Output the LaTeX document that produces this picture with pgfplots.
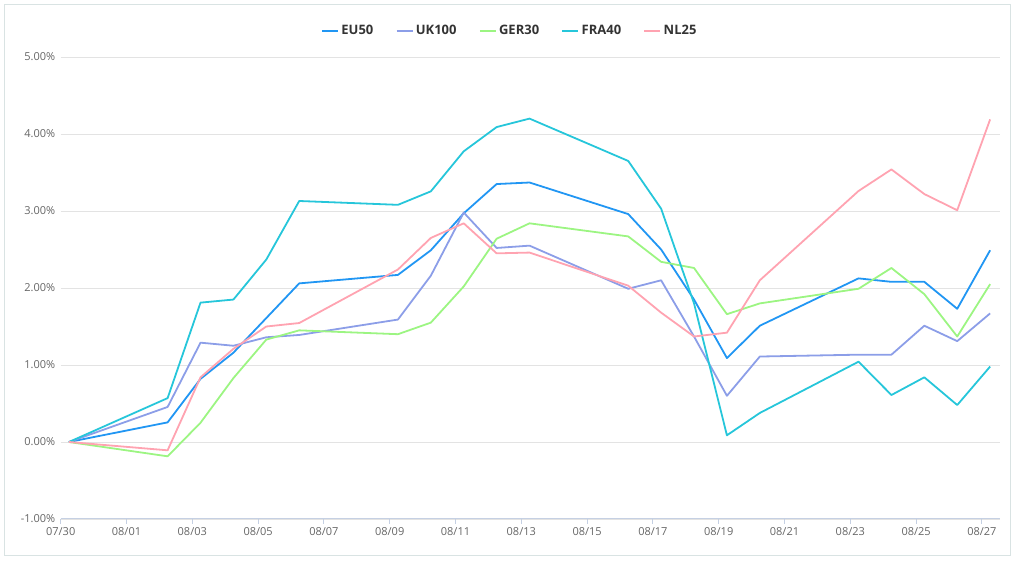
\documentclass[border=0pt]{standalone}
\usepackage{pgfplots}
\usepackage{pgfplotstable}
\pgfplotsset{compat=1.18}
\usepackage{fontspec}
\setmainfont{Open Sans}
\definecolor{eu}{HTML}{2196F3}
\definecolor{uk}{HTML}{8C9EE8}
\definecolor{ger}{HTML}{9CF582}
\definecolor{fra}{HTML}{26C6DA}
\definecolor{nl}{HTML}{FFA3B1}
\definecolor{gridc}{HTML}{E3E3E3}
\definecolor{axisc}{HTML}{C5D0E3}
\definecolor{tickc}{HTML}{666666}
\definecolor{legc}{HTML}{333333}
\definecolor{borderc}{HTML}{D9E3E3}
\pgfplotstableread{
x     eu     uk     ger     fra    nl
0.25  0      0      0       0      0
3.25  0.255  0.455  -0.186  0.57   -0.108
4.25  0.82   1.29   0.25    1.81   0.84
5.25  1.16   1.25   0.83    1.85   1.21
6.25  1.61   1.36   1.33    2.37   1.50
7.25  2.06   1.39   1.45    3.13   1.545
10.25 2.17   1.59   1.40    3.08   2.24
11.25 2.49   2.16   1.55    3.255  2.65
12.25 2.97   2.98   2.02    3.775  2.84
13.25 3.35   2.52   2.64    4.09   2.45
14.25 3.37   2.55   2.84    4.20   2.46
17.25 2.96   1.99   2.67    3.65   2.03
18.25 2.50   2.10   2.34    3.03   1.68
19.25 1.85   1.37   2.26    1.80   1.37
20.25 1.09   0.60   1.66    0.087  1.42
21.25 1.51   1.11   1.80    0.377  2.10
24.25 2.125  1.134  1.99    1.043  3.26
25.25 2.08   1.134  2.26    0.61   3.54
26.25 2.08   1.51   1.92    0.84   3.22
27.25 1.73   1.31   1.37    0.48   3.01
28.25 2.49   1.67   2.05    0.98   4.19
}\data
\begin{document}
\begin{tikzpicture}
\useasboundingbox (-60.7pt,-43pt) rectangle (954.3pt,519pt);
\draw[borderc, line width=1pt] (-55.7pt,-37pt) rectangle (949.3pt,514pt);
\begin{axis}[
  scale only axis,
  width=939.3pt, height=462pt,
  xmin=0, xmax=28.55, ymin=-1, ymax=5,
  xtick={0,2,...,28},
  xticklabels={07/30,08/01,08/03,08/05,08/07,08/09,08/11,08/13,08/15,08/17,08/19,08/21,08/23,08/25,08/27},
  ytick={-1,0,...,5},
  yticklabels={-1.00\%,0.00\%,1.00\%,2.00\%,3.00\%,4.00\%,5.00\%},
  axis lines*=left,
  x axis line style={axisc, line width=1pt},
  y axis line style={draw=none},
  xtick style={axisc, line width=1pt},
  ytick style={draw=none},
  tick align=outside,
  major tick length=5pt,
  ymajorgrids,
  grid style={gridc, line width=0.8pt},
  tick label style={font=\fontsize{11}{13}\selectfont, text=tickc},
  yticklabel style={xshift=3pt},
  legend style={at={(0.478,1)}, anchor=center, yshift=26pt, draw=none, fill=none,
    legend columns=5, font=\bfseries\fontsize{13}{15}\selectfont, text=legc,
    /tikz/every even column/.append style={column sep=20pt}},
  legend image code/.code={\draw[#1, line width=2.5pt] (0pt,0pt) -- (16pt,0pt);},
  every axis plot/.append style={line width=1.8pt, line join=round, no markers},
]
\addplot[eu] table[x=x,y=eu] {\data};
\addlegendentry{EU50}
\addplot[uk] table[x=x,y=uk] {\data};
\addlegendentry{UK100}
\addplot[ger] table[x=x,y=ger] {\data};
\addlegendentry{GER30}
\addplot[fra] table[x=x,y=fra] {\data};
\addlegendentry{FRA40}
\addplot[nl] table[x=x,y=nl] {\data};
\addlegendentry{NL25}
\end{axis}
\end{tikzpicture}
\end{document}
